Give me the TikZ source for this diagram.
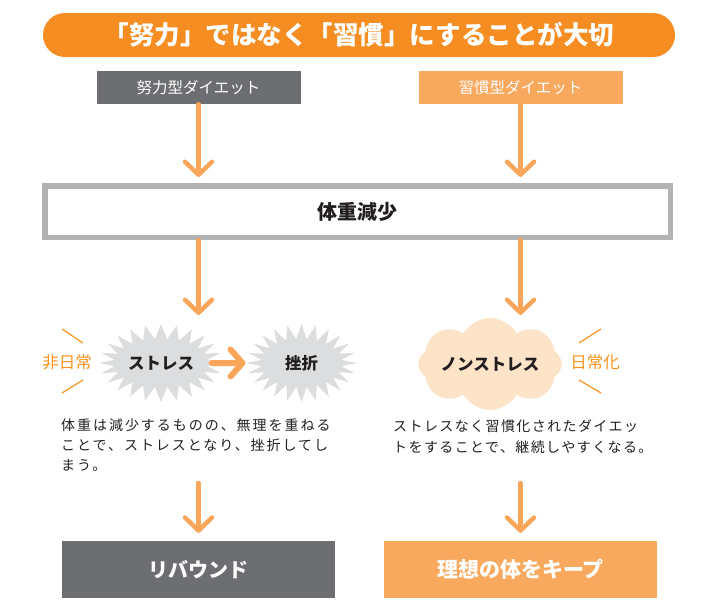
\documentclass[tikz,border=0pt]{standalone}
\usepackage{fontspec}
\setmainfont{Noto Sans CJK JP}
\newfontfamily\jpwide{Noto Sans CJK JP}[LetterSpace=14]
\newfontfamily\jpmid{Noto Sans CJK JP}[LetterSpace=10]
\usetikzlibrary{arrows.meta,shapes.symbols}
\definecolor{bannerorange}{HTML}{F58D22}
\definecolor{hdrgray}{HTML}{6D6E71}
\definecolor{hdrorange}{HTML}{F8A95E}
\definecolor{arrorange}{HTML}{F9A65A}
\definecolor{framegray}{HTML}{B2B3B5}
\definecolor{burstgray}{HTML}{DCDDDE}
\definecolor{puffpeach}{HTML}{FDE3C8}
\definecolor{lblorange}{HTML}{F7941D}
\definecolor{textdark}{HTML}{231F20}
\tikzset{
  banner/.style={fill=bannerorange, rounded corners=22pt, minimum width=632pt, minimum height=44pt,
    inner sep=0pt, text=white, font=\bfseries\fontsize{25.5}{28}\selectfont},
  hdr/.style={minimum width=204pt, minimum height=33pt, inner sep=0pt, text=white,
    font=\fontsize{15.5}{18}\selectfont},
  weightbox/.style={draw=framegray, line width=5.5pt, fill=white, minimum width=625.5pt,
    minimum height=51.5pt, inner sep=0pt, text=textdark, font=\bfseries\fontsize{20}{24}\selectfont},
  burst/.style={starburst, starburst points=24, starburst point height=15pt, random starburst=0,
    fill=burstgray, minimum width=110pt, minimum height=78pt, inner sep=0pt, text=textdark,
    font=\bfseries\fontsize{16.5}{20}\selectfont},
  puff/.style={cloud, cloud puffs=8, cloud puff arc=120, aspect=2.1, fill=puffpeach,
    minimum width=139pt, minimum height=80pt, inner sep=0pt, text=textdark,
    font=\bfseries\fontsize{16.5}{20}\selectfont},
  sidelbl/.style={text=lblorange, inner sep=0pt, font=\fontsize{16.5}{19}\selectfont},
  tick/.style={draw=lblorange, line width=1.2pt},
  para/.style={align=left, inner sep=0pt, text=textdark},
  endbox/.style={minimum width=273pt, minimum height=57pt, inner sep=0pt, text=white},
  arr/.style={draw=arrorange, line width=4.5pt, line cap=round,
    -{Straight Barb[length=13pt, width=27pt, line cap=round, line join=round]}},
  bigarr/.style={draw=arrorange, line width=6pt, line cap=round,
    -{Straight Barb[length=12pt, width=27pt, line cap=round, line join=round]}}
}
\begin{document}
\begin{tikzpicture}[x=1pt, y=-1pt]
  \useasboundingbox (0,0) rectangle (704,608);
  % title and the two kinds of diet
  \node[banner] (title) at (359,35) {「努力」ではなく「習慣」にすることが大切};
  \node[hdr, fill=hdrgray] (effort) at (198.5,87.5) {努力型ダイエット};
  \node[hdr, fill=hdrorange] (habit) at (520.5,87.5) {習慣型ダイエット};
  \node[weightbox] (weight) at (357.5,211.5) {体重減少};
  \draw[arr, shorten >=6pt] (effort.south) -- (effort |- weight.north);
  \draw[arr, shorten >=6pt] (habit.south) -- (habit |- weight.north);
  % middle row
  \node[burst] (stress) at (161,363) {ストレス};
  \node[burst] (fail) at (301.5,363) {挫折};
  \node[puff] (nostress) at (490,364) {ノンストレス};
  \coordinate (lmid) at (198.5,315);
  \coordinate (rmid) at (520.5,315);
  \draw[arr] (effort |- weight.south) -- (lmid);
  \draw[arr] (habit |- weight.south) -- (rmid);
  \draw[bigarr] ([xshift=-12pt]stress.east) -- (fail.west);
  \node[sidelbl] (unusual) at (67,362) {非日常};
  \node[sidelbl] (daily) at (595,362) {日常化};
  \draw[tick] (62,329) -- (83,343);
  \draw[tick] (62,393) -- (83,380);
  \draw[tick] (579,343) -- (601,329);
  \draw[tick] (579,380) -- (601,393);
  % notes
  \node[para, anchor=north west, font=\jpwide\fontsize{14}{20}\selectfont] (leftnote) at (61,419)
    {体重は減少するものの、無理を重ねる\\ことで、ストレスとなり、挫折してし\\まう。};
  \node[para, anchor=north west, font=\jpmid\fontsize{14}{21}\selectfont] (rightnote) at (393,419)
    {ストレスなく習慣化されたダイエッ\\トをすることで、継続しやすくなる。};
  % results
  \coordinate (lfree) at (198.5,483);
  \coordinate (rfree) at (520.5,483);
  \node[endbox, fill=hdrgray, font=\bfseries\fontsize{20}{24}\selectfont] (rebound) at (198.5,569.5) {リバウンド};
  \node[endbox, fill=hdrorange, font=\bfseries\fontsize{21}{24}\selectfont] (keep) at (520.5,569.5) {理想の体をキープ};
  \draw[arr, shorten >=8pt] (lfree) -- (rebound.north);
  \draw[arr, shorten >=8pt] (rfree) -- (keep.north);
\end{tikzpicture}
\end{document}
